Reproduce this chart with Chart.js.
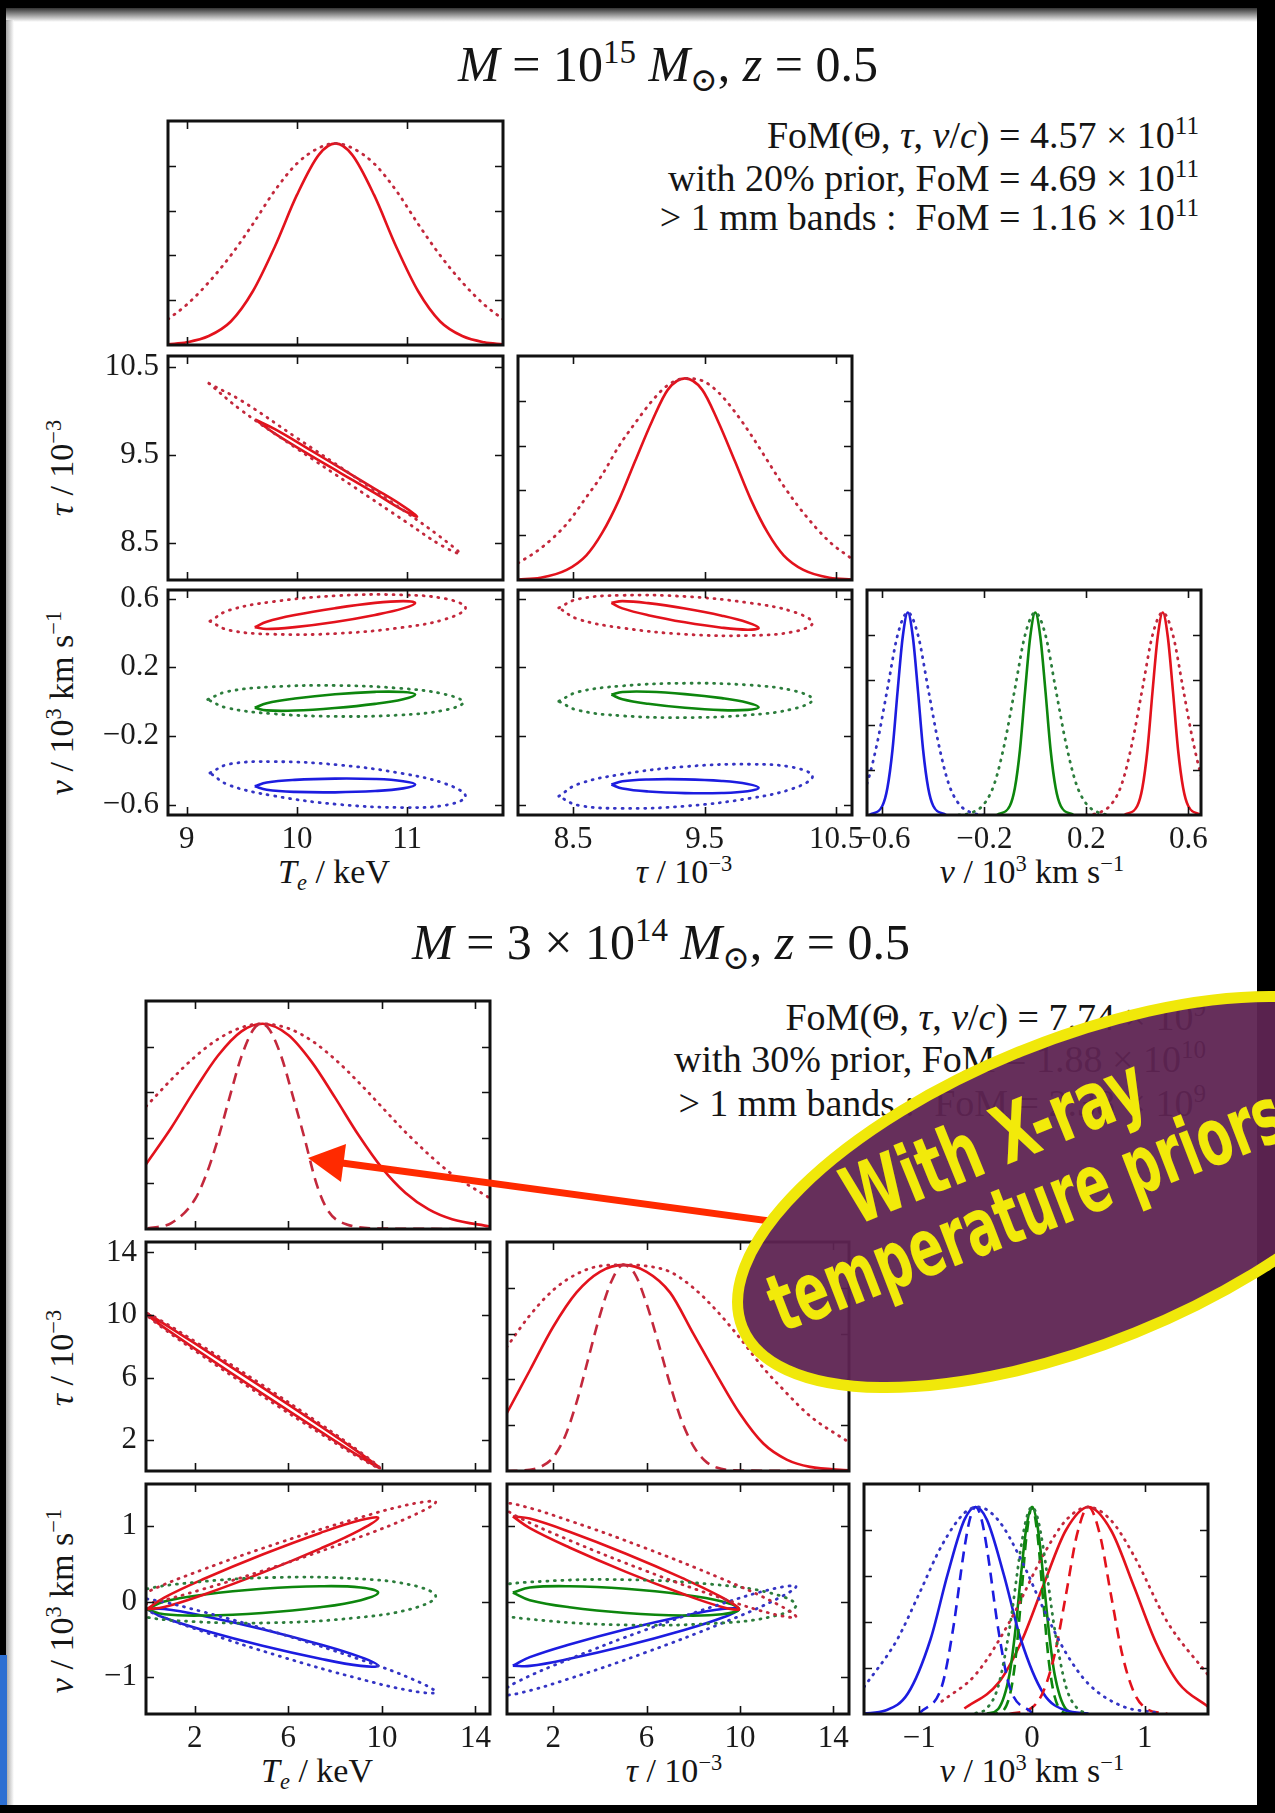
<!DOCTYPE html>
<html>
<head>
<meta charset="utf-8">
<script src="https://cdn.jsdelivr.net/npm/chart.js@4.4.0/dist/chart.umd.min.js"></script>
<style>
  body { margin: 0; width: 1275px; height: 1813px; position: relative; background: #fff; overflow: hidden;
         font-family: 'Liberation Serif', 'DejaVu Serif', serif; color: #151515; }
  canvas { position: absolute; }
  .t { position: absolute; white-space: nowrap; line-height: 1; }
  .c { transform: translate(-50%, -50%); }
  .r { transform: translate(0, -50%); text-align: right; }
  .rot { transform: translate(-50%, -50%) rotate(-90deg); }
  sup { font-size: 0.66em; position: relative; top: -0.55em; vertical-align: 0; line-height: 0; }
  sub { font-size: 0.66em; position: relative; top: 0.3em; vertical-align: 0; line-height: 0; }
</style>
</head>
<body>

<div class="t c" style="left:668px;top:64px;font-size:50px"><i>M</i> = 10<sup>15</sup> <i>M</i><sub>⊙</sub>, <i>z</i> = 0.5</div>
<div class="t r" style="right:76px;top:135px;font-size:38px">FoM(Θ, <i>τ</i>, <i>v</i>/<i>c</i>) = 4.57 × 10<sup>11</sup></div>
<div class="t r" style="right:76px;top:178px;font-size:38px">with 20% prior, FoM = 4.69 × 10<sup>11</sup></div>
<div class="t r" style="right:76px;top:217px;font-size:38px">&gt; 1 mm bands :&nbsp; FoM = 1.16 × 10<sup>11</sup></div>

<div class="t c" style="left:661px;top:942px;font-size:50px"><i>M</i> = 3 × 10<sup>14</sup> <i>M</i><sub>⊙</sub>, <i>z</i> = 0.5</div>
<div class="t r" style="right:69px;top:1017px;font-size:38px">FoM(Θ, <i>τ</i>, <i>v</i>/<i>c</i>) = 7.74 × 10<sup>9</sup></div>
<div class="t r" style="right:69px;top:1059px;font-size:38px">with 30% prior, FoM = 1.88 × 10<sup>10</sup></div>
<div class="t r" style="right:69px;top:1103px;font-size:38px">&gt; 1 mm bands :&nbsp; FoM = 2.38 × 10<sup>9</sup></div>

<div class="t c" style="left:334px;top:872px;font-size:34px"><i>T<sub>e</sub></i> / keV</div>
<div class="t c" style="left:684px;top:872px;font-size:34px"><i>τ</i> / 10<sup>−3</sup></div>
<div class="t c" style="left:1032px;top:872px;font-size:34px"><i>v</i> / 10<sup>3</sup> km s<sup>−1</sup></div>
<div class="t rot" style="left:62px;top:468px;font-size:34px"><i>τ</i> / 10<sup>−3</sup></div>
<div class="t rot" style="left:62px;top:703px;font-size:34px"><i>v</i> / 10<sup>3</sup> km s<sup>−1</sup></div>

<div class="t c" style="left:317px;top:1771px;font-size:34px"><i>T<sub>e</sub></i> / keV</div>
<div class="t c" style="left:674px;top:1771px;font-size:34px"><i>τ</i> / 10<sup>−3</sup></div>
<div class="t c" style="left:1032px;top:1771px;font-size:34px"><i>v</i> / 10<sup>3</sup> km s<sup>−1</sup></div>
<div class="t rot" style="left:62px;top:1358px;font-size:34px"><i>τ</i> / 10<sup>−3</sup></div>
<div class="t rot" style="left:62px;top:1601px;font-size:34px"><i>v</i> / 10<sup>3</sup> km s<sup>−1</sup></div>

<svg width="1275" height="1813" style="position:absolute;left:0;top:0;z-index:5">
  <defs>
    <linearGradient id="gTop" x1="0" y1="0" x2="0" y2="1">
      <stop offset="0" stop-color="#333"/><stop offset="1" stop-color="#fff"/>
    </linearGradient>
    <linearGradient id="gLeft" x1="0" y1="0" x2="1" y2="0">
      <stop offset="0" stop-color="#666"/><stop offset="1" stop-color="#fff"/>
    </linearGradient>
  </defs>
  <rect x="0" y="0" width="1275" height="8" fill="#000"/>
  <rect x="0" y="8" width="1275" height="14" fill="url(#gTop)"/>
  <rect x="0" y="0" width="6" height="1813" fill="#000"/>
  <rect x="6" y="20" width="8" height="1790" fill="url(#gLeft)" opacity="0.6"/>
  <rect x="1257" y="0" width="18" height="1813" fill="#000"/>
  <rect x="0" y="1805" width="1275" height="8" fill="#000"/>
  <rect x="0" y="1655" width="7" height="150" fill="#2d6fd2"/>

  <line x1="770" y1="1221" x2="342" y2="1163" stroke="#ff2a00" stroke-width="7"/>
  <polygon points="308,1158 346,1144 341,1182" fill="#ff2a00"/>

  <g transform="translate(1078 1192) rotate(-22)">
    <ellipse rx="362" ry="152" fill="#5e2452" fill-opacity="0.95" stroke="#f0e80a" stroke-width="11"/>
  </g>
  <g font-family="'Liberation Sans Narrow', 'DejaVu Sans Condensed', sans-serif" font-weight="bold" fill="#f2ea0a" text-anchor="middle">
    <text transform="translate(1004 1166) rotate(-22)" font-size="80" textLength="318" lengthAdjust="spacingAndGlyphs">With X-ray</text>
    <text transform="translate(1036 1235) rotate(-21)" font-size="80" textLength="545" lengthAdjust="spacingAndGlyphs">temperature priors</text>
  </g>
</svg>

<script>
// ---------- axes ----------
var teRangeTop = [8.83, 11.87];
var tauRangeTop = [8.08, 10.62];
var vRangeTop = [-0.66, 0.65];
var pdfRange = [0, 1];
var teTicksTop = [9, 10, 11];
var tauTicksTop = [8.5, 9.5, 10.5];
var vTicksTop = [-0.6, -0.2, 0.2, 0.6];
var pdfTicks = [0.2, 0.4, 0.6, 0.8];

var teRangeBot = [-0.08, 14.62];
var tauRangeBot = [0.02, 14.67];
var vRangeBot = [-1.49, 1.56];
var teTicksBot = [2, 6, 10, 14];
var tauTicksBot = [2, 6, 10, 14];
var vTicksBot = [-1, 0, 1];

// ---------- top: M = 1e15 ----------
// Te marginal
var teGridTop = [8.83, 9.0, 9.2, 9.4, 9.6, 9.8, 10.0, 10.2, 10.35, 10.5, 10.7, 10.9, 11.1, 11.3, 11.5, 11.7, 11.87];
var teSolidTop = [0.003, 0.012, 0.04, 0.105, 0.24, 0.44, 0.67, 0.85, 0.9, 0.85, 0.67, 0.44, 0.24, 0.105, 0.04, 0.012, 0.003];
var teDottedTop = [0.115, 0.18, 0.28, 0.40, 0.54, 0.69, 0.81, 0.88, 0.9, 0.88, 0.81, 0.69, 0.54, 0.40, 0.28, 0.18, 0.115];
// tau marginal
var tauGridTop = [8.08, 8.25, 8.45, 8.6, 8.72, 8.85, 8.97, 9.1, 9.22, 9.35, 9.48, 9.6, 9.73, 9.85, 9.98, 10.1, 10.25, 10.45, 10.62];
var tauSolidTop = [0.002, 0.01, 0.045, 0.11, 0.21, 0.36, 0.53, 0.71, 0.85, 0.9, 0.85, 0.71, 0.53, 0.36, 0.21, 0.11, 0.045, 0.01, 0.002];
var tauDottedTop = [0.075, 0.14, 0.25, 0.37, 0.47, 0.6, 0.7, 0.8, 0.87, 0.9, 0.89, 0.84, 0.75, 0.65, 0.53, 0.42, 0.30, 0.17, 0.094];
// Te - tau contours
var t21SolidX = [9.62, 9.8, 10.1, 10.4, 10.7, 10.95, 11.09, 10.95, 10.7, 10.4, 10.1, 9.8, 9.62];
var t21SolidY = [9.90, 9.79, 9.57, 9.345, 9.12, 8.93, 8.80, 8.88, 9.07, 9.29, 9.51, 9.74, 9.90];
var t21DotX = [9.2, 9.5, 10.0, 10.5, 11.0, 11.3, 11.48, 11.3, 11.0, 10.5, 10.0, 9.5, 9.2];
var t21DotY = [10.31, 10.11, 9.69, 9.27, 8.84, 8.57, 8.38, 8.48, 8.73, 9.15, 9.57, 10.0, 10.31];
// Te - v contours
var t31SolidX = [9.617, 9.726, 9.981, 10.345, 10.709, 10.964, 11.073, 10.964, 10.709, 10.345, 9.981, 9.726, 9.617];
var t31RedY = [0.433, 0.465, 0.504, 0.544, 0.575, 0.585, 0.575, 0.543, 0.505, 0.464, 0.434, 0.423, 0.433];
var t31GreenY = [-0.036, -0.009, 0.018, 0.043, 0.057, 0.056, 0.041, 0.014, -0.013, -0.037, -0.052, -0.051, -0.036];
var t31BlueY = [-0.493, -0.471, -0.4555, -0.448, -0.4505, -0.463, -0.483, -0.505, -0.5205, -0.528, -0.5255, -0.513, -0.493];
var t31DotX = [9.21, 9.384, 9.79, 10.37, 10.95, 11.356, 11.53, 11.356, 10.95, 10.37, 9.79, 9.384, 9.21];
var t31RedDotY = [0.468, 0.532, 0.5825, 0.617, 0.6215, 0.598, 0.546, 0.482, 0.4315, 0.397, 0.3925, 0.416, 0.468];
var t31BlueDotY = [-0.415, -0.364, -0.3495, -0.368, -0.4175, -0.48, -0.551, -0.602, -0.6165, -0.598, -0.5485, -0.486, -0.415];
var t31GreenDotX = [9.19, 9.364, 9.77, 10.35, 10.93, 11.336, 11.51, 11.336, 10.93, 10.35, 9.77, 9.364, 9.19];
var t31GreenDotY = [0.012, 0.058, 0.086, 0.094, 0.078, 0.044, -0.004, -0.05, -0.078, -0.086, -0.07, -0.036, 0.012];
// tau - v contours
var t32SolidX = [8.79, 8.874, 9.07, 9.35, 9.63, 9.826, 9.91, 9.826, 9.63, 9.35, 9.07, 8.874, 8.79];
var t32RedY = [0.575, 0.585, 0.5735, 0.542, 0.5005, 0.461, 0.429, 0.419, 0.4305, 0.462, 0.5035, 0.543, 0.575];
var t32GreenY = [0.041, 0.056, 0.0575, 0.044, 0.0205, -0.006, -0.033, -0.048, -0.0495, -0.036, -0.0125, 0.014, 0.041];
var t32BlueY = [-0.483, -0.4635, -0.453, -0.4525, -0.462, -0.4795, -0.502, -0.5215, -0.532, -0.5325, -0.523, -0.5055, -0.483];
var t32DotX = [8.39, 8.535, 8.872, 9.355, 9.838, 10.175, 10.32, 10.175, 9.838, 9.355, 8.872, 8.535, 8.39];
var t32RedDotY = [0.546, 0.597, 0.619, 0.612, 0.575, 0.523, 0.458, 0.407, 0.385, 0.392, 0.429, 0.481, 0.546];
var t32GreenDotY = [0.002, 0.056, 0.0915, 0.107, 0.0965, 0.064, 0.012, -0.042, -0.0775, -0.093, -0.0825, -0.05, 0.002];
var t32BlueDotY = [-0.551, -0.481, -0.4225, -0.378, -0.3645, -0.383, -0.435, -0.505, -0.5635, -0.608, -0.6215, -0.603, -0.551];
// v marginals
var t33SolidY = [0, 0.04, 0.12, 0.29, 0.55, 0.79, 0.9, 0.79, 0.55, 0.29, 0.12, 0.04, 0];
var t33BlueX = [-0.65, -0.6, -0.58, -0.56, -0.54, -0.52, -0.5, -0.48, -0.46, -0.44, -0.42, -0.4, -0.35];
var t33GreenX = [-0.15, -0.1, -0.08, -0.06, -0.04, -0.02, 0, 0.02, 0.04, 0.06, 0.08, 0.1, 0.15];
var t33RedX = [0.35, 0.4, 0.42, 0.44, 0.46, 0.48, 0.5, 0.52, 0.54, 0.56, 0.58, 0.6, 0.65];
var t33DotY = [0, 0.01, 0.05, 0.14, 0.32, 0.56, 0.8, 0.9, 0.8, 0.56, 0.32, 0.14, 0.05, 0.01, 0];
var t33BlueDotX = [-0.8, -0.75, -0.7, -0.66, -0.62, -0.58, -0.54, -0.5, -0.46, -0.42, -0.38, -0.34, -0.3, -0.25, -0.2];
var t33GreenDotX = [-0.3, -0.25, -0.2, -0.16, -0.12, -0.08, -0.04, 0, 0.04, 0.08, 0.12, 0.16, 0.2, 0.25, 0.3];
var t33RedDotX = [0.2, 0.25, 0.3, 0.34, 0.38, 0.42, 0.46, 0.5, 0.54, 0.58, 0.62, 0.66, 0.7, 0.75, 0.8];

// ---------- bottom: M = 3e14 ----------
var teGridBot = [-0.08, 1, 2, 3, 4, 4.9, 6, 7, 8, 9, 10, 11, 12, 13, 14.62];
var teSolidBot = [0.284, 0.444, 0.609, 0.761, 0.867, 0.9, 0.851, 0.733, 0.576, 0.412, 0.268, 0.159, 0.086, 0.043, 0.011];
var teDottedBot = [0.537, 0.655, 0.754, 0.833, 0.884, 0.9, 0.88, 0.826, 0.744, 0.644, 0.535, 0.426, 0.327, 0.24, 0.135];
var teDashGridBot = [0, 1, 2, 2.5, 3, 3.5, 4, 4.5, 4.85, 5.2, 5.7, 6.2, 6.7, 7.2, 7.7, 8.5, 10, 14.62];
var teDashedBot = [0.003, 0.026, 0.128, 0.24, 0.396, 0.581, 0.757, 0.874, 0.9, 0.874, 0.757, 0.581, 0.396, 0.2, 0.08, 0.02, 0.002, 0];

var tauGridBot = [0, 1, 2, 3, 4, 5, 6, 7, 8, 9, 10, 11, 12, 13, 14.67];
var tauSolidBot = [0.25, 0.44, 0.63, 0.78, 0.87, 0.9, 0.87, 0.78, 0.6, 0.42, 0.25, 0.12, 0.05, 0.018, 0.003];
var tauDottedBot = [0.54, 0.68, 0.79, 0.86, 0.895, 0.9, 0.895, 0.87, 0.8, 0.7, 0.58, 0.45, 0.34, 0.24, 0.125];
var tauDashGridBot = [0, 1, 1.5, 2, 2.5, 3, 3.5, 4, 4.5, 5, 5.5, 6, 6.5, 7, 7.5, 8, 8.5, 9, 10, 14.67];
var tauDashedBot = [0, 0.005, 0.02, 0.06, 0.15, 0.3, 0.49, 0.68, 0.83, 0.9, 0.86, 0.73, 0.56, 0.38, 0.22, 0.11, 0.045, 0.015, 0.002, 0];

var b21X = [-0.3, 0.47, 2.255, 4.81, 7.365, 9.15, 9.92, 9.15, 7.365, 4.81, 2.255, 0.47, -0.3];
var b21SolidY = [10.3, 9.645, 7.943, 5.45, 2.903, 1.065, 0.2, 0.855, 2.557, 5.05, 7.597, 9.435, 10.3];
var b21DotY = [10.3, 9.724, 8.073, 5.6, 3.033, 1.144, 0.2, 0.776, 2.427, 4.9, 7.467, 9.356, 10.3];

var b31SolidX = [-0.04, 0.7, 2.43, 4.9, 7.37, 9.1, 9.84, 9.1, 7.37, 4.9, 2.43, 0.7, -0.04];
var b31RedY = [-0.1, 0.054, 0.3065, 0.625, 0.9115, 1.082, 1.11, 0.956, 0.7035, 0.385, 0.0985, -0.072, -0.1];
var b31GreenY = [-0.1, 0.0005, 0.094, 0.17, 0.204, 0.1875, 0.12, 0.0195, -0.074, -0.15, -0.184, -0.1675, -0.1];
var b31BlueY = [-0.1, -0.098, -0.1925, -0.365, -0.5675, -0.736, -0.85, -0.852, -0.7575, -0.585, -0.3825, -0.214, -0.1];
var b31DotX = [-1.0, 0, 2.325, 5.65, 8.975, 11.3, 12.3, 11.3, 8.975, 5.65, 2.325, 0, -1.0];
var b31RedDotY = [-0.05, 0.132, 0.4225, 0.785, 1.1075, 1.296, 1.32, 1.138, 0.8475, 0.485, 0.1625, -0.026, -0.05];
var b31BlueDotY = [0.05, 0.035, -0.1325, -0.425, -0.7575, -1.027, -1.2, -1.185, -1.0175, -0.725, -0.3925, -0.123, 0.05];
var b31GreenDotX = [-1.5, -0.465, 1.95, 5.4, 8.85, 11.265, 12.3, 11.265, 8.85, 5.4, 1.95, -0.465, -1.5];
var b31GreenDotY = [-0.03, 0.1355, 0.255, 0.32, 0.305, 0.2205, 0.07, -0.0955, -0.215, -0.28, -0.265, -0.1805, -0.03];

var b32SolidX = [0.27, 0.997, 2.6925, 5.115, 7.5375, 9.233, 9.96, 9.233, 7.5375, 5.115, 2.6925, 0.997, 0.27];
var b32RedY = [1.13, 1.101, 0.9265, 0.635, 0.3115, 0.055, -0.1, -0.071, 0.1035, 0.395, 0.7185, 0.975, 1.13];
var b32GreenY = [0.12, 0.1875, 0.204, 0.17, 0.094, 0.0005, -0.1, -0.1675, -0.184, -0.15, -0.074, 0.0195, 0.12];
var b32BlueY = [-0.85, -0.736, -0.5675, -0.365, -0.1925, -0.098, -0.1, -0.214, -0.3825, -0.585, -0.7575, -0.852, -0.85];
var b32DotX = [-0.5, 0.4675, 2.725, 5.95, 9.175, 11.4325, 12.4, 11.4325, 9.175, 5.95, 2.725, 0.4675, -0.5];
var b32RedDotY = [1.32, 1.285, 1.07, 0.71, 0.31, -0.007, -0.2, -0.165, 0.05, 0.41, 0.81, 1.127, 1.32];
var b32BlueDotY = [-1.25, -1.062, -0.7575, -0.375, -0.0325, 0.17, 0.2, 0.012, -0.2925, -0.675, -1.0175, -1.22, -1.25];
var b32GreenDotX = [-2, -0.92, 1.6, 5.2, 8.8, 11.32, 12.4, 11.32, 8.8, 5.2, 1.6, -0.92, -2];
var b32GreenDotY = [0.03, 0.182, 0.27, 0.29, 0.23, 0.114, -0.05, -0.202, -0.29, -0.31, -0.25, -0.134, 0.03];

var b33BlueX = [-1.49, -1.3, -1.1, -0.9, -0.75, -0.6, -0.5, -0.4, -0.25, -0.1, 0.1, 0.3, 0.5];
var b33BlueY = [0.002, 0.015, 0.09, 0.325, 0.605, 0.844, 0.9, 0.844, 0.605, 0.325, 0.09, 0.015, 0.002];
var b33BlueDashX = [-1.0, -0.8, -0.7, -0.6, -0.55, -0.5, -0.45, -0.4, -0.3, -0.2, 0];
var b33BlueDashY = [0.003, 0.12, 0.37, 0.72, 0.85, 0.9, 0.85, 0.72, 0.37, 0.12, 0.003];
var b33BlueDotX = [-1.49, -1.2, -1.0, -0.8, -0.6, -0.48, -0.3, -0.1, 0.1, 0.3, 0.5, 0.8, 1.1];
var b33BlueDotY = [0.117, 0.32, 0.524, 0.733, 0.874, 0.9, 0.843, 0.674, 0.459, 0.266, 0.131, 0.034, 0.006];
var b33GreenX = [-0.4, -0.3, -0.2, -0.15, -0.1, -0.05, 0, 0.05, 0.1, 0.15, 0.2, 0.3, 0.4];
var b33GreenY = [0.001, 0.022, 0.173, 0.355, 0.596, 0.812, 0.9, 0.812, 0.596, 0.355, 0.173, 0.022, 0.001];
var b33GreenDashY = [0, 0.003, 0.076, 0.224, 0.486, 0.771, 0.9, 0.771, 0.486, 0.224, 0.076, 0.003, 0];
var b33GreenDotX = [-0.5, -0.4, -0.3, -0.2, -0.1, -0.05, 0, 0.05, 0.1, 0.2, 0.3, 0.4, 0.5];
var b33GreenDotY = [0.003, 0.025, 0.12, 0.37, 0.72, 0.85, 0.9, 0.85, 0.72, 0.37, 0.12, 0.025, 0.003];
var b33RedX = [-0.6, -0.3, -0.1, 0.1, 0.3, 0.5, 0.7, 0.9, 1.1, 1.3, 1.56];
var b33RedY = [0.024, 0.134, 0.309, 0.559, 0.799, 0.9, 0.799, 0.559, 0.309, 0.134, 0.032];
var b33RedDashX = [-0.2, 0, 0.1, 0.2, 0.3, 0.4, 0.5, 0.6, 0.7, 0.8, 0.9, 1.0, 1.2];
var b33RedDashY = [0, 0.028, 0.098, 0.258, 0.517, 0.783, 0.9, 0.783, 0.517, 0.258, 0.098, 0.028, 0];
var b33RedDotX = [-0.8, -0.5, -0.2, 0.1, 0.3, 0.5, 0.7, 0.9, 1.2, 1.56];
var b33RedDotY = [0.055, 0.172, 0.4, 0.691, 0.842, 0.9, 0.842, 0.691, 0.4, 0.17];

// ---------- drawing ----------
const SERIF = "'Liberation Serif', 'DejaVu Serif', serif";
const RED = '#e3121c', GREEN = '#0d860d', BLUE = '#1c1ce0';
const RED_D = '#c3283c', GREEN_D = '#2c7d3c', BLUE_D = '#3434c4';
const PADL = 110, PADR = 12, PADT = 12, PADB = 62;

function fmt(v) {
  return v < 0 ? '\u2212' + Math.abs(v) : String(v);
}

// frame and inward ticks on all four sides
const frame = {
  id: 'frame',
  afterDatasetsDraw(chart) {
    const ctx = chart.ctx, a = chart.chartArea;
    const xs = chart.scales.x, ys = chart.scales.y;
    ctx.save();
    ctx.strokeStyle = '#111';
    ctx.lineWidth = 1.6;
    ctx.beginPath();
    xs.ticks.forEach(t => {
      const p = Math.round(xs.getPixelForValue(t.value)) + 0.5;
      ctx.moveTo(p, a.bottom); ctx.lineTo(p, a.bottom - 8);
      ctx.moveTo(p, a.top); ctx.lineTo(p, a.top + 8);
    });
    ys.ticks.forEach(t => {
      const p = Math.round(ys.getPixelForValue(t.value)) + 0.5;
      ctx.moveTo(a.left, p); ctx.lineTo(a.left + 8, p);
      ctx.moveTo(a.right, p); ctx.lineTo(a.right - 8, p);
    });
    ctx.stroke();
    ctx.lineWidth = 3;
    ctx.strokeRect(a.left, a.top, a.width, a.height);
    ctx.restore();
  }
};

function axis(r, ticks, show, dir) {
  return {
    type: 'linear', min: r[0], max: r[1],
    grid: { display: false, drawTicks: false },
    border: { display: false },
    ticks: {
      display: show, padding: dir === 'x' ? 6 : 9, color: '#1a1a1a',
      font: { family: SERIF, size: 31 }, maxRotation: 0, autoSkip: false,
      callback: v => fmt(v)
    },
    afterBuildTicks: s => { s.ticks = ticks.map(v => ({ value: v })); },
    afterFit: s => {
      if (dir === 'x') s.height = PADB; else s.width = PADL;
      s.paddingLeft = 0; s.paddingRight = 0; s.paddingTop = 0; s.paddingBottom = 0;
    }
  };
}

function curve(xs, ys, color, style, loop) {
  return {
    data: xs.map((x, i) => ({ x: x, y: ys[i] })),
    showLine: true,
    borderColor: color,
    borderWidth: style === 'dot' ? 2.8 : 2.6,
    borderDash: style === 'dot' ? [1, 6.5] : (style === 'dash' ? [11, 7] : []),
    borderCapStyle: style === 'dot' ? 'round' : 'butt',
    pointRadius: 0,
    tension: loop ? 0.4 : 0,
    cubicInterpolationMode: loop ? 'default' : 'monotone',
    fill: false
  };
}

function panel(box, xr, yr, xt, yt, showX, showY, sets) {
  const cv = document.createElement('canvas');
  cv.width = box[2] + PADL + PADR;
  cv.height = box[3] + PADT + PADB;
  cv.style.left = (box[0] - PADL) + 'px';
  cv.style.top = (box[1] - PADT) + 'px';
  document.body.appendChild(cv);
  new Chart(cv, {
    type: 'scatter',
    data: { datasets: sets },
    options: {
      responsive: false, animation: false, devicePixelRatio: 1,
      layout: { padding: { left: 0, top: PADT, right: PADR, bottom: 0 } },
      plugins: { legend: { display: false }, tooltip: { enabled: false } },
      scales: { x: axis(xr, xt, showX, 'x'), y: axis(yr, yt, showY, 'y') }
    },
    plugins: [frame]
  });
}

// plot boxes [left, top, width, height]
const top11 = [168, 121, 335, 224], top21 = [168, 356, 335, 224], top22 = [518, 356, 334, 224];
const top31 = [168, 590, 335, 225], top32 = [518, 590, 334, 225], top33 = [867, 590, 334, 225];
const bot11 = [146, 1001, 344, 228], bot21 = [146, 1242, 344, 229], bot22 = [507, 1242, 342, 229];
const bot31 = [146, 1484, 344, 230], bot32 = [507, 1484, 342, 230], bot33 = [864, 1484, 344, 230];

panel(top11, teRangeTop, pdfRange, teTicksTop, pdfTicks, false, false, [
  curve(teGridTop, teDottedTop, RED_D, 'dot'),
  curve(teGridTop, teSolidTop, RED, 'solid')
]);
panel(top21, teRangeTop, tauRangeTop, teTicksTop, tauTicksTop, false, true, [
  curve(t21DotX, t21DotY, RED_D, 'dot', true),
  curve(t21SolidX, t21SolidY, RED, 'solid', true)
]);
panel(top22, tauRangeTop, pdfRange, tauTicksTop, pdfTicks, false, false, [
  curve(tauGridTop, tauDottedTop, RED_D, 'dot'),
  curve(tauGridTop, tauSolidTop, RED, 'solid')
]);
panel(top31, teRangeTop, vRangeTop, teTicksTop, vTicksTop, true, true, [
  curve(t31DotX, t31RedDotY, RED_D, 'dot', true),
  curve(t31GreenDotX, t31GreenDotY, GREEN_D, 'dot', true),
  curve(t31DotX, t31BlueDotY, BLUE_D, 'dot', true),
  curve(t31SolidX, t31RedY, RED, 'solid', true),
  curve(t31SolidX, t31GreenY, GREEN, 'solid', true),
  curve(t31SolidX, t31BlueY, BLUE, 'solid', true)
]);
panel(top32, tauRangeTop, vRangeTop, tauTicksTop, vTicksTop, true, false, [
  curve(t32DotX, t32RedDotY, RED_D, 'dot', true),
  curve(t32DotX, t32GreenDotY, GREEN_D, 'dot', true),
  curve(t32DotX, t32BlueDotY, BLUE_D, 'dot', true),
  curve(t32SolidX, t32RedY, RED, 'solid', true),
  curve(t32SolidX, t32GreenY, GREEN, 'solid', true),
  curve(t32SolidX, t32BlueY, BLUE, 'solid', true)
]);
panel(top33, vRangeTop, pdfRange, vTicksTop, pdfTicks, true, false, [
  curve(t33BlueDotX, t33DotY, BLUE_D, 'dot'),
  curve(t33GreenDotX, t33DotY, GREEN_D, 'dot'),
  curve(t33RedDotX, t33DotY, RED_D, 'dot'),
  curve(t33BlueX, t33SolidY, BLUE, 'solid'),
  curve(t33GreenX, t33SolidY, GREEN, 'solid'),
  curve(t33RedX, t33SolidY, RED, 'solid')
]);

panel(bot11, teRangeBot, pdfRange, teTicksBot, pdfTicks, false, false, [
  curve(teGridBot, teDottedBot, RED_D, 'dot'),
  curve(teDashGridBot, teDashedBot, RED_D, 'dash'),
  curve(teGridBot, teSolidBot, RED, 'solid')
]);
panel(bot21, teRangeBot, tauRangeBot, teTicksBot, tauTicksBot, false, true, [
  curve(b21X, b21DotY, RED_D, 'dot', true),
  curve(b21X, b21SolidY, RED, 'solid', true)
]);
panel(bot22, tauRangeBot, pdfRange, tauTicksBot, pdfTicks, false, false, [
  curve(tauGridBot, tauDottedBot, RED_D, 'dot'),
  curve(tauDashGridBot, tauDashedBot, RED_D, 'dash'),
  curve(tauGridBot, tauSolidBot, RED, 'solid')
]);
panel(bot31, teRangeBot, vRangeBot, teTicksBot, vTicksBot, true, true, [
  curve(b31DotX, b31RedDotY, RED_D, 'dot', true),
  curve(b31GreenDotX, b31GreenDotY, GREEN_D, 'dot', true),
  curve(b31DotX, b31BlueDotY, BLUE_D, 'dot', true),
  curve(b31SolidX, b31RedY, RED, 'solid', true),
  curve(b31SolidX, b31GreenY, GREEN, 'solid', true),
  curve(b31SolidX, b31BlueY, BLUE, 'solid', true)
]);
panel(bot32, tauRangeBot, vRangeBot, tauTicksBot, vTicksBot, true, false, [
  curve(b32DotX, b32RedDotY, RED_D, 'dot', true),
  curve(b32GreenDotX, b32GreenDotY, GREEN_D, 'dot', true),
  curve(b32DotX, b32BlueDotY, BLUE_D, 'dot', true),
  curve(b32SolidX, b32RedY, RED, 'solid', true),
  curve(b32SolidX, b32GreenY, GREEN, 'solid', true),
  curve(b32SolidX, b32BlueY, BLUE, 'solid', true)
]);
panel(bot33, vRangeBot, pdfRange, vTicksBot, pdfTicks, true, false, [
  curve(b33BlueDotX, b33BlueDotY, BLUE_D, 'dot'),
  curve(b33GreenDotX, b33GreenDotY, GREEN_D, 'dot'),
  curve(b33RedDotX, b33RedDotY, RED_D, 'dot'),
  curve(b33BlueDashX, b33BlueDashY, BLUE, 'dash'),
  curve(b33GreenX, b33GreenDashY, GREEN, 'dash'),
  curve(b33RedDashX, b33RedDashY, RED, 'dash'),
  curve(b33BlueX, b33BlueY, BLUE, 'solid'),
  curve(b33GreenX, b33GreenY, GREEN, 'solid'),
  curve(b33RedX, b33RedY, RED, 'solid')
]);
</script>
</body>
</html>
